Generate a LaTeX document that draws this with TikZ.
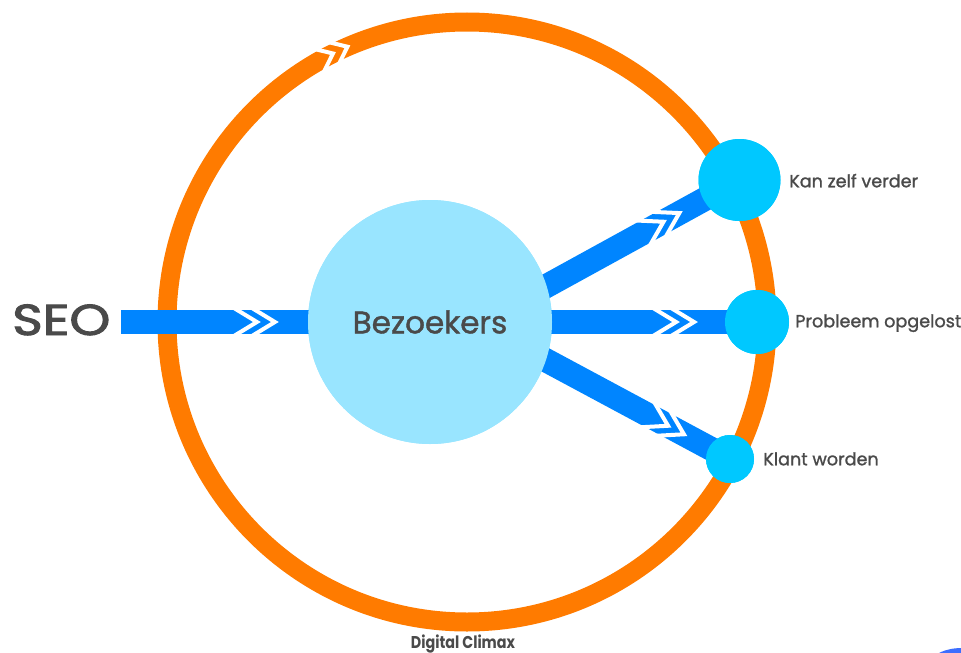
\documentclass[tikz,border=0pt]{standalone}
\usepackage{fontspec}
\setmainfont{Poppins}
\newfontfamily\medfont{Poppins}[FakeBold=1.3]
\newfontfamily\semifont{Poppins}[FakeBold=2.2]
\usetikzlibrary{calc}
\definecolor{ringc}{RGB}{255,123,0}
\definecolor{bandc}{RGB}{0,133,255}
\definecolor{bezc}{RGB}{153,229,255}
\definecolor{dotc}{RGB}{0,200,255}
\definecolor{txtc}{RGB}{74,74,74}
\definecolor{cornerc}{RGB}{60,110,255}
\tikzset{
  bandline/.style={draw=bandc, line width=18pt, line cap=butt},
  ringline/.style={draw=ringc, line width=14.25pt},
  chevw/.style={draw=white, line width=3pt, line cap=butt, line join=miter},
  lbl/.style={text=txtc, inner sep=0pt, text depth=0pt, anchor=west},
  sidelbl/.style={lbl, text height=9.4pt, font=\medfont\fontsize{13.2}{16}\selectfont},
  dotnode/.style={circle, fill=dotc, inner sep=0pt, minimum size=#1},
  chevrons/.pic={\draw[chevw] (-32,-14) -- (-9,0) -- (-32,14) (-14,-14) -- (9,0) -- (-14,14);},
  ringchev/.pic={\draw[chevw] (-23,-12) -- (-8,0) -- (-23,12) (-7,-12) -- (8,0) -- (-7,12);},
}
\begin{document}
\begin{tikzpicture}[x=0.75pt,y=-0.75pt]
\useasboundingbox (0,0) rectangle (961,653);
\clip (0,0) rectangle (961,653);
% outer ring
\coordinate (rc) at (467,322);
\draw[ringline] (rc) circle[radius=300];
\pic[rotate=25] at ($(rc)+(-115:300)$) {ringchev};
% nodes
\node[lbl, text height=22.5pt, font=\semifont\fontsize{32.5}{36}\selectfont] (seo) at (12,320) {\scalebox{1.2}[1]{SEO}};
\coordinate (seoband) at (121,322);
\node[circle, fill=bezc, inner sep=0pt, minimum size=183pt] (bez) at (430,322) {};
\node[dotnode=61.5pt] (kan) at (739.5,180) {};
\node[dotnode=48pt] (prob) at (757,322) {};
\node[dotnode=36pt] (klant) at (730,459) {};
\coordinate (kanstart) at (430,350);
\coordinate (klantstart) at (430,298);
% bands
\path[bandline] (seoband) -- (bez.center) pic[pos=0.469, sloped]{chevrons};
\path[bandline] (kanstart) -- (kan.center) pic[pos=0.78, sloped]{chevrons};
\path[bandline] (bez.center) -- (prob.center) pic[pos=0.78, sloped]{chevrons};
\path[bandline] (klantstart) -- (klant.center) pic[pos=0.82, sloped]{chevrons};
% redraw circles on top
\node[circle, fill=bezc, inner sep=0pt, minimum size=183pt, text=txtc,
      font=\medfont\fontsize{23.3}{26}\selectfont] (bezt) at (bez.center) {Bezoekers};
\node[dotnode=61.5pt] (kant) at (kan.center) {};
\node[dotnode=48pt] (probt) at (prob.center) {};
\node[dotnode=36pt] (klantt) at (klant.center) {};
% labels
\node[sidelbl] (kanl) at (789,181) {Kan zelf verder};
\node[sidelbl] (probl) at (795,321) {Probleem opgelost};
\node[sidelbl] (klantl) at (763,459) {Klant worden};
\node[text=txtc, inner sep=0pt, text height=9.2pt, text depth=0pt,
      font=\bfseries\fontsize{12.8}{16}\selectfont] (dc) at (463,642) {\scalebox{0.84}[1]{Digital Climax}};
% corner fragment
\fill[cornerc] (962,662) ellipse[x radius=30, y radius=14];
\end{tikzpicture}
\end{document}
